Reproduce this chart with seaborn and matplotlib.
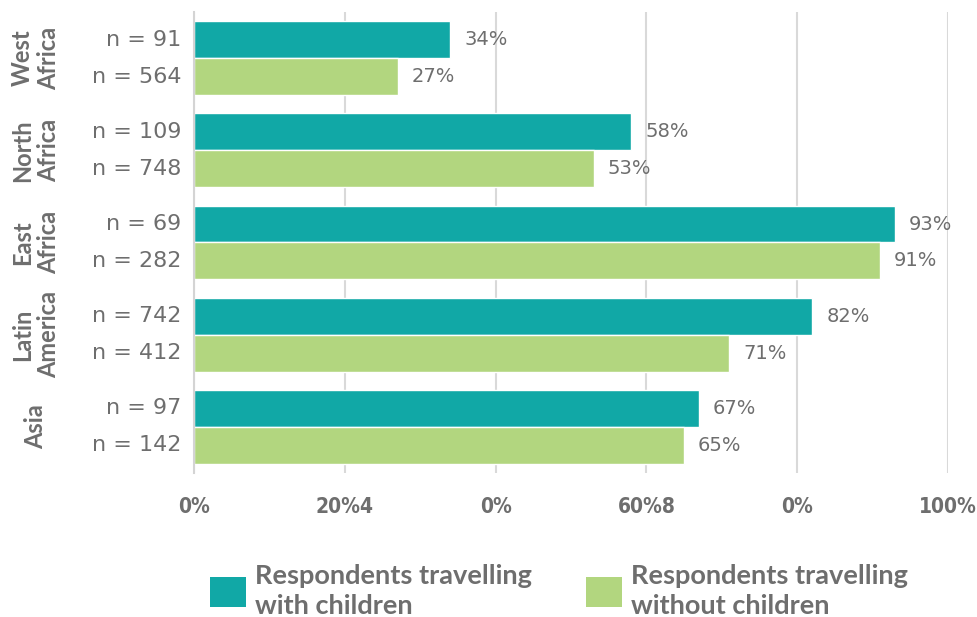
import matplotlib
matplotlib.use("Agg")
import matplotlib.pyplot as plt
from matplotlib.patches import Patch
import seaborn as sns
import pandas as pd

# Share of respondents by region, split by travelling with / without children
regions = ["West Africa", "North Africa", "East Africa", "Latin America", "Asia"]
region_labels = ["West\nAfrica", "North\nAfrica", "East\nAfrica", "Latin\nAmerica", "Asia"]
groups = ["Respondents travelling\nwith children", "Respondents travelling\nwithout children"]
with_children = [34, 58, 93, 82, 67]
without_children = [27, 53, 91, 71, 65]
n_with = [91, 109, 69, 742, 97]
n_without = [564, 748, 282, 412, 142]
x_ticks = [0, 20, 40, 60, 80, 100]
x_tick_labels = ["0%", "20%4", "0%", "60%8", "0%", "100%"]
colors = ["#11a8a6", "#b2d67f"]

df = pd.DataFrame({
    "region": regions * 2,
    "group": [groups[0]] * len(regions) + [groups[1]] * len(regions),
    "value": with_children + without_children,
})
n_values = [n_with, n_without]

sns.set_theme(style="white")
plt.rcParams["font.family"] = ["Lato", "DejaVu Sans"]
text_grey = "#6e6e6e"

fig = plt.figure(figsize=(9.77, 6.17), dpi=100)
ax = fig.add_axes([194 / 977, 1 - 473 / 617, 754 / 977, 461 / 617])

sns.barplot(data=df, y="region", x="value", hue="group", order=regions,
            hue_order=groups, palette=colors, saturation=1, width=0.8,
            edgecolor="white", linewidth=1, legend=False, ax=ax)

ax.set_xlim(0, 100)
ax.set_ylim(len(regions) - 0.5, -0.5)
ax.set_xticks(x_ticks)
ax.set_xticklabels(x_tick_labels, fontfamily=["DejaVu Sans"], fontstretch="condensed",
                   fontweight="bold", fontsize=15, color=text_grey)
ax.tick_params(axis="x", length=0, pad=17)
ax.set_yticks([])
ax.set_xlabel("")
ax.set_ylabel("")
ax.grid(axis="x", color="#d9d9d9", linewidth=1.5)
ax.set_axisbelow(True)
for side in ["top", "right", "bottom"]:
    ax.spines[side].set_visible(False)
ax.spines["left"].set_color("#d4d4d4")
ax.spines["left"].set_linewidth(1.5)

# value labels and sample sizes next to each bar
for container, ns in zip(ax.containers, n_values):
    ax.bar_label(container, fmt="%g%%", padding=10, fontsize=14, color=text_grey,
                 fontfamily=["DejaVu Sans"])
    for bar, n in zip(container, ns):
        yc = bar.get_y() + bar.get_height() / 2
        ax.annotate(f"n = {n}", xy=(0, yc), xycoords=("axes fraction", "data"),
                    xytext=(-9, 0), textcoords="offset points", ha="right",
                    va="center", fontsize=16, color=text_grey,
                    fontfamily=["DejaVu Sans"])

# region names, rotated
for i, lab in enumerate(region_labels):
    ax.annotate(lab, xy=(0, i), xycoords=("axes fraction", "data"),
                xytext=(-114, 0), textcoords="offset points", ha="center",
                va="center", rotation=90, multialignment="center",
                fontsize=17, fontweight="bold", color=text_grey, linespacing=1.15)

handles = [Patch(facecolor=c, edgecolor="none") for c in colors]
leg = fig.legend(handles, groups, loc="upper left",
                 bbox_to_anchor=(210 / 977, 1 - 564 / 617), ncol=2, frameon=False,
                 prop={"weight": "bold", "size": 19.5},
                 labelcolor=text_grey, handlelength=1.33, handleheight=1.3,
                 handletextpad=0.33, columnspacing=2.0, borderpad=0, borderaxespad=0)
for t in leg.get_texts():
    t.set_linespacing(1.3)

fig.savefig("out.png", dpi=100)
